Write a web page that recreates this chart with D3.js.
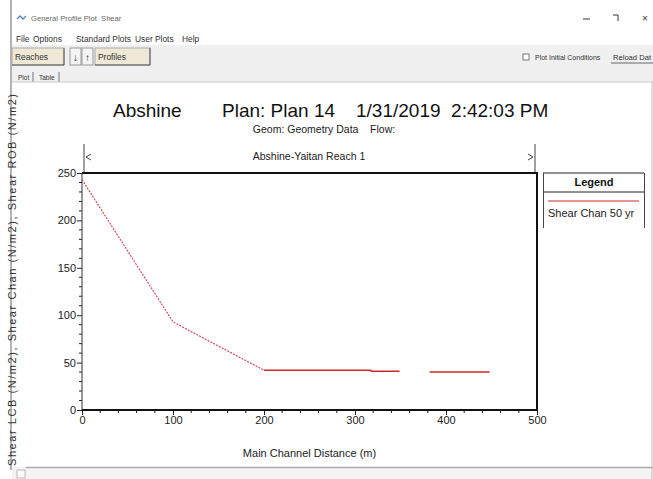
<!DOCTYPE html>
<html><head><meta charset="utf-8">
<script src="https://cdn.jsdelivr.net/npm/d3@7/dist/d3.min.js"></script>
<style>
html,body{margin:0;padding:0;background:#fff;overflow:hidden}
svg{display:block;font-family:"Liberation Sans",Arial,sans-serif}
</style></head>
<body>
<svg id="c" width="653" height="479"></svg>
<script>
// ---- data ----
const mainChannelDistance = [0, 100, 200, 317, 318, 349, 365, 382, 448];
const shearChan50yr       = [243, 93, 42, 42, 41, 41, null, 40, 40];
const xTicks = [0, 100, 200, 300, 400, 500];
const yTicks = [0, 50, 100, 150, 200, 250];
const seriesName = "Shear Chan 50 yr";
const titleParts = ["Abshine", "Plan: Plan 14", "1/31/2019  2:42:03 PM"];
const subTitle = "Geom: Geometry Data    Flow:";
const reachName = "Abshine-Yaitan Reach 1";
const xLabel = "Main Channel Distance (m)";
const yLabel = "Shear LCB (N/m2), Shear Chan (N/m2), Shear ROB (N/m2)";
const menuItems = ["File", "Options", "Standard Plots", "User Plots", "Help"];

(function () {
const svg = d3.select("#c");
const W = 653, H = 479;

// ---- window chrome ----
svg.append("rect").attr("width", W).attr("height", H).attr("fill", "#fff");
svg.append("rect").attr("x", 12).attr("y", 45).attr("width", W - 12).attr("height", 37).attr("fill", "#f0f0f0");
svg.append("path").attr("d", "M17,19 l3,-3 l3,3 l3,-3").attr("stroke", "#5b7fb0").attr("fill", "none").attr("stroke-width", 1.3);
svg.append("text").attr("x", 31).attr("y", 21).attr("font-size", 7.6).attr("fill", "#666").style("white-space", "pre").text("General Profile Plot  Shear");
svg.append("line").attr("x1", 583).attr("x2", 590).attr("y1", 19).attr("y2", 19).attr("stroke", "#333");
svg.append("path").attr("d", "M613,15 h5 v6").attr("stroke", "#333").attr("fill", "none");
svg.append("text").attr("x", 645).attr("y", 22).attr("font-size", 10).attr("fill", "#333").attr("text-anchor", "middle").text("×");
svg.append("line").attr("x1", 11).attr("x2", 11).attr("y1", 0).attr("y2", 470).attr("stroke", "#666").attr("stroke-width", 1);
const menuX = [16, 33, 76, 135, 182];
menuItems.forEach((m, i) => {
  svg.append("text").attr("x", menuX[i]).attr("y", 42).attr("font-size", 8.4).attr("fill", "#333").text(m);
});
function button(bx, w, label) {
  svg.append("rect").attr("x", bx).attr("y", 48).attr("width", w).attr("height", 17).attr("fill", "#efe8d6").attr("stroke", "#aaa");
  svg.append("line").attr("x1", bx + w).attr("x2", bx + w).attr("y1", 48).attr("y2", 65).attr("stroke", "#555");
  svg.append("line").attr("x1", bx).attr("x2", bx + w).attr("y1", 65).attr("y2", 65).attr("stroke", "#555");
  svg.append("text").attr("x", bx + 3).attr("y", 60).attr("font-size", 8.4).attr("fill", "#333").text(label);
}
button(12, 52, "Reaches");
button(95, 55, "Profiles");
svg.append("rect").attr("x", 70).attr("y", 48).attr("width", 11).attr("height", 17).attr("fill", "#f4f4f4").attr("stroke", "#999");
svg.append("rect").attr("x", 82).attr("y", 48).attr("width", 11).attr("height", 17).attr("fill", "#f4f4f4").attr("stroke", "#999");
svg.append("text").attr("x", 75.5).attr("y", 61).attr("font-size", 10).attr("font-weight", "bold").attr("text-anchor", "middle").attr("fill", "#222").text("↓");
svg.append("text").attr("x", 87.5).attr("y", 61).attr("font-size", 10).attr("font-weight", "bold").attr("text-anchor", "middle").attr("fill", "#222").text("↑");
svg.append("rect").attr("x", 523).attr("y", 54).attr("width", 6).attr("height", 6).attr("fill", "#fff").attr("stroke", "#777");
svg.append("text").attr("x", 535).attr("y", 60).attr("font-size", 7).attr("fill", "#333").text("Plot Initial Conditions");
svg.append("text").attr("x", 613).attr("y", 60).attr("font-size", 7.6).attr("fill", "#333").text("Reload Dat");
svg.append("line").attr("x1", 611).attr("x2", 653).attr("y1", 63).attr("y2", 63).attr("stroke", "#666");
svg.append("text").attr("x", 18).attr("y", 80).attr("font-size", 6.5).attr("fill", "#333").text("Plot");
svg.append("line").attr("x1", 33).attr("x2", 33).attr("y1", 72).attr("y2", 82).attr("stroke", "#777");
svg.append("text").attr("x", 39).attr("y", 80).attr("font-size", 6.5).attr("fill", "#333").text("Table");
svg.append("line").attr("x1", 59).attr("x2", 59).attr("y1", 72).attr("y2", 82).attr("stroke", "#777");
svg.append("rect").attr("x", 12).attr("y", 82).attr("width", W - 12).attr("height", 385).attr("fill", "#fff");
svg.append("line").attr("x1", 12).attr("x2", W).attr("y1", 82).attr("y2", 82).attr("stroke", "#ccc");
svg.append("rect").attr("x", 12).attr("y", 467).attr("width", W - 12).attr("height", 12).attr("fill", "#f3f3f3");
svg.append("line").attr("x1", 26).attr("x2", W).attr("y1", 467.5).attr("y2", 467.5).attr("stroke", "#aaa").attr("stroke-width", 1.5);
svg.append("rect").attr("x", 17).attr("y", 470).attr("width", 8).attr("height", 8).attr("fill", "#fafafa").attr("stroke", "#bbb");
svg.append("line").attr("x1", 652).attr("x2", 652).attr("y1", 82).attr("y2", 479).attr("stroke", "#bbb");

// ---- chart ----
const pL = 82, pR = 537, pT = 173, pB = 410;
const x = d3.scaleLinear().domain([0, 500]).range([pL, pR]);
const y = d3.scaleLinear().domain([0, 250]).range([pB, pT]);

const tx = [113, 222, 356];
titleParts.forEach((t, i) => {
  svg.append("text").attr("x", tx[i]).attr("y", 117).attr("font-size", 19).attr("fill", "#111").style("white-space", "pre").text(t);
});
svg.append("text").attr("x", 324).attr("y", 133).attr("font-size", 10.5).attr("fill", "#222")
  .attr("text-anchor", "middle").style("white-space", "pre").text(subTitle);
svg.append("line").attr("x1", 84).attr("x2", 84).attr("y1", 144).attr("y2", 172).attr("stroke", "#444");
svg.append("line").attr("x1", 535).attr("x2", 535).attr("y1", 144).attr("y2", 172).attr("stroke", "#444");
svg.append("path").attr("d", "M91,154 l-5,3 l5,3").attr("stroke", "#444").attr("fill", "none");
svg.append("path").attr("d", "M528,154 l5,3 l-5,3").attr("stroke", "#444").attr("fill", "none");
svg.append("text").attr("x", 309).attr("y", 160).attr("font-size", 10.5).attr("fill", "#222").attr("text-anchor", "middle").text(reachName);

const yAxis = d3.axisLeft(y).tickValues(yTicks).tickSize(5).tickPadding(1).tickFormat(d3.format("d"));
const gy = svg.append("g").attr("transform", `translate(${pL},0)`).call(yAxis);
const yMinor = d3.range(0, 251, 10).filter(v => v % 50 !== 0);
svg.append("g").selectAll("line").data(yMinor).join("line")
  .attr("x1", pL - 3).attr("x2", pL).attr("y1", d => y(d)).attr("y2", d => y(d)).attr("stroke", "#222");
const xAxis = d3.axisBottom(x).tickValues(xTicks).tickSize(5).tickPadding(1).tickFormat(d3.format("d"));
const gx = svg.append("g").attr("transform", `translate(0,${pB})`).call(xAxis);
const xMinor = d3.range(0, 501, 20).filter(v => v % 100 !== 0);
svg.append("g").selectAll("line").data(xMinor).join("line")
  .attr("x1", d => x(d)).attr("x2", d => x(d)).attr("y1", pB).attr("y2", pB + 3).attr("stroke", "#222");
[gx, gy].forEach(g => {
  g.select(".domain").remove();
  g.selectAll("line").attr("stroke", "#222");
  g.selectAll("text").attr("font-size", 11).attr("fill", "#222").attr("font-family", "Liberation Sans, Arial, sans-serif");
});

svg.append("line").attr("x1", pL).attr("x2", pL).attr("y1", pT).attr("y2", pB).attr("stroke", "#333").attr("stroke-width", 1);
svg.append("line").attr("x1", pR).attr("x2", pR).attr("y1", pT).attr("y2", pB + 1).attr("stroke", "#111").attr("stroke-width", 2);
svg.append("line").attr("x1", pL).attr("x2", pR + 1).attr("y1", pT).attr("y2", pT).attr("stroke", "#111").attr("stroke-width", 2);
svg.append("line").attr("x1", pL).attr("x2", pR + 1).attr("y1", pB).attr("y2", pB).attr("stroke", "#111").attr("stroke-width", 2);

svg.append("text").attr("x", x(250)).attr("y", 457).attr("font-size", 11).attr("fill", "#222").attr("text-anchor", "middle").text(xLabel);
svg.append("text").attr("transform", "translate(16,280) rotate(-90)").attr("font-size", 11).attr("fill", "#333")
  .attr("text-anchor", "middle").attr("textLength", 372).attr("lengthAdjust", "spacing").text(yLabel);

// series: steep upstream part renders as a fine dotted line, flat part solid
const pts = mainChannelDistance.map((d, i) => ({ d, v: shearChan50yr[i] }));
const line = d3.line().defined(p => p.v != null).x(p => x(p.d)).y(p => y(p.v));
const steep = pts.filter(p => p.d <= 200);
const flat = pts.filter(p => p.d >= 200);
svg.append("path").datum(steep).attr("d", line).attr("fill", "none").attr("stroke", "#d0404a")
  .attr("stroke-width", 1.1).attr("stroke-dasharray", "2,1.2");
svg.append("path").datum(flat).attr("d", line).attr("fill", "none").attr("stroke", "#cc2a2a").attr("stroke-width", 1.5);

const lg = svg.append("g");
lg.append("line").attr("x1", 543).attr("x2", 644).attr("y1", 173).attr("y2", 173).attr("stroke", "#222");
lg.append("line").attr("x1", 543).attr("x2", 644).attr("y1", 192).attr("y2", 192).attr("stroke", "#222");
lg.append("line").attr("x1", 543.5).attr("x2", 543.5).attr("y1", 173).attr("y2", 228).attr("stroke", "#444");
lg.append("line").attr("x1", 644.5).attr("x2", 644.5).attr("y1", 173).attr("y2", 228).attr("stroke", "#444");
lg.append("text").attr("x", 594).attr("y", 186).attr("font-size", 11).attr("font-weight", "bold").attr("text-anchor", "middle").attr("fill", "#111").text("Legend");
lg.append("line").attr("x1", 548).attr("x2", 639).attr("y1", 201).attr("y2", 201).attr("stroke", "#d42a2a").attr("stroke-width", 1.2);
lg.append("text").attr("x", 548).attr("y", 217).attr("font-size", 11).attr("fill", "#222").text(seriesName);
})();
</script>
</body></html>
